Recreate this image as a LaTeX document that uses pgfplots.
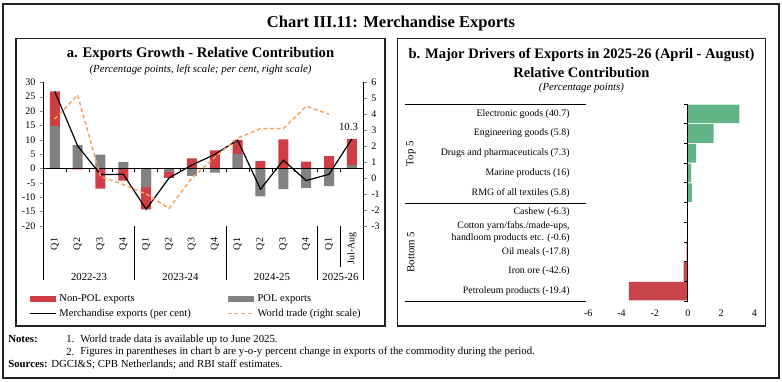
\documentclass[border=0pt]{standalone}
\usepackage{fontspec}
\setmainfont{Liberation Serif}
\usepackage{pgfplots}
\pgfplotsset{compat=1.18}
\definecolor{nonpol}{HTML}{CF3D45}
\definecolor{pol}{HTML}{828282}
\definecolor{wtrade}{HTML}{F4A261}
\definecolor{posg}{HTML}{62B487}
\definecolor{negr}{HTML}{C8444A}
\definecolor{frame}{HTML}{222222}
\newcommand{\fs}{\fontsize{7.5}{9}\selectfont}
\newcommand{\fn}{\fontsize{8.1}{9.5}\selectfont}
\begin{document}
\begin{tikzpicture}
\useasboundingbox (0,0) rectangle (586.5pt,286.5pt);
\begin{scope}[x=0.75pt,y=-0.75pt,shift={(0,286.5pt)}]
 \draw[line width=1pt, frame] (3,4) rectangle (779,378);
 \draw[line width=0.8pt, frame] (16,38.3) rectangle (385,326);
 \draw[line width=0.8pt, frame] (397.3,38.3) rectangle (765.7,326);
 \node[font=\fontsize{12.4}{14}\selectfont\bfseries] at (391,24) {Chart III.11: Merchandise Exports};
 \node[font=\fontsize{11}{13}\selectfont\bfseries] at (200.5,54) {a. Exports Growth - Relative Contribution};
 \node[font=\fn\itshape] at (200.5,70) {(Percentage points, left scale; per cent, right scale)};
 \node[font=\fontsize{10.9}{13}\selectfont\bfseries] at (581.5,55) {b. Major Drivers of Exports in 2025-26 (April - August)};
 \node[font=\fontsize{10.9}{13}\selectfont\bfseries] at (581.5,73) {Relative Contribution};
 \node[font=\fn\itshape] at (581.5,87.5) {(Percentage points)};
 \draw[line width=0.7pt] (405,104) -- (586,104);
 \draw[line width=0.7pt] (405,203.3) -- (586,203.3);
 \draw[line width=0.7pt] (405,301) -- (586,301);
 \node[rotate=90,font=\fn] at (411,153.7) {Top 5};
 \node[rotate=90,font=\fn] at (411,252) {Bottom 5};
 \node[anchor=west,font=\fn\bfseries,inner sep=0pt] at (8,339.5) {Notes:};
 \node[anchor=west,font=\fn,inner sep=0pt] at (66,339.5) {1.};
 \node[anchor=west,font=\fn,inner sep=0pt] at (80,339.5) {World trade data is available up to June 2025.};
 \node[anchor=west,font=\fn,inner sep=0pt] at (66,352) {2.};
 \node[anchor=west,font=\fn,inner sep=0pt] at (80,352) {Figures in parentheses in chart b are y-o-y percent change in exports of the commodity during the period.};
 \node[anchor=west,font=\fn,inner sep=0pt] at (8,364.5) {\textbf{Sources:} DGCI\&S; CPB Netherlands; and RBI staff estimates.};
\end{scope}

% Panel a, left scale
\begin{axis}[
  at={(32.5pt,117pt)}, anchor=south west,
  scale only axis, width=240pt, height=107.8pt,
  xmin=-0.5, xmax=13.5, ymin=-20, ymax=30,
  axis y line*=left, axis x line=none,
  ytick={-20,-15,...,30},
  tick align=outside, major tick length=2.5pt,
  ticklabel style={font=\fs},
  y axis line style={line width=0.7pt},
  /pgf/number format/assume math mode=true,
  clip=false,
  legend columns=2,
  legend cell align=left,
  legend style={at={(axis description cs:-0.05,-0.445)}, anchor=north west, draw=none, fill=none,
    font=\fontsize{7.9}{9}\selectfont, inner sep=1pt, row sep=0.3pt,
    /tikz/every even column/.append style={column sep=25pt}},
]
\addplot[ybar, bar width=7.5pt, bar shift=0pt, fill=nonpol, draw=none,
  legend image code/.code={\fill[nonpol] (0pt,-2.3pt) rectangle (20pt,2.3pt);}]
  coordinates {(0,26.8) (1,-0.3) (2,-7.0) (3,-4.2) (4,-14.2) (5,-3.3) (6,3.5) (7,6.3) (8,9.9) (9,2.6) (10,10.1) (11,2.4) (12,4.3) (13,10.3)};
\addlegendentry{Non-POL exports}
\addplot[ybar, bar width=7.5pt, bar shift=0pt, fill=pol, draw=none,
  legend image code/.code={\fill[pol] (0pt,-2.3pt) rectangle (20pt,2.3pt);}]
  coordinates {(0,14.8) (1,8.1) (2,4.8) (3,2.2) (4,-6.6) (5,-1.2) (6,-2.6) (7,-1.4) (8,5.0) (9,-9.7) (10,-7.2) (11,-6.7) (12,-6.1) (13,1.2)};
\addlegendentry{POL exports}
\addplot[black, line width=0.9pt, mark=none,
  legend image code/.code={\draw[black, line width=0.9pt] (0pt,0pt) -- (20pt,0pt);}]
  coordinates {(0,26.8) (1,7.9) (2,-2.1) (3,-2.0) (4,-14.2) (5,-3.3) (6,1.2) (7,4.9) (8,9.9) (9,-7.2) (10,2.9) (11,-4.2) (12,-2.0) (13,10.3)};
\addlegendentry{Merchandise exports (per cent)}
\addlegendimage{legend image code/.code={\draw[wtrade, line width=1.1pt, dash pattern=on 3pt off 2pt] (0pt,0pt) -- (20pt,0pt);}}
\addlegendentry{World trade (right scale)}
\node[font=\fn, anchor=south] at (axis cs:12.85,11.6) {10.3};
% zero line and ticks
\draw[line width=0.7pt] (axis cs:-0.5,0) -- (axis cs:13.5,0);
\pgfplotsinvokeforeach{0.5,1.5,2.5,3.5,4.5,5.5,6.5,7.5,8.5,9.5,10.5,11.5,12.5}{\draw[line width=0.5pt] (axis cs:#1,0) -- ++(0pt,-2.3pt);}
% category separators
\pgfplotsinvokeforeach{-0.5,3.5,7.5,11.5,13.5}{\draw[line width=0.7pt] (axis cs:#1,-20) -- (axis cs:#1,-38.9);}
\draw[line width=0.7pt] (axis cs:12.5,-20) -- (axis cs:12.5,-34.3);
% category labels
\pgfplotsinvokeforeach{0,4,8,12}{\node[rotate=90,font=\fs] at (axis cs:#1,-26.3) {Q1};}
\pgfplotsinvokeforeach{1,5,9}{\node[rotate=90,font=\fs] at (axis cs:#1,-26.3) {Q2};}
\pgfplotsinvokeforeach{2,6,10}{\node[rotate=90,font=\fs] at (axis cs:#1,-26.3) {Q3};}
\pgfplotsinvokeforeach{3,7,11}{\node[rotate=90,font=\fs] at (axis cs:#1,-26.3) {Q4};}
\node[rotate=90,font=\fs] at (axis cs:13,-27.8) {Jul-Aug};
\node[font=\fn] at (axis cs:1.5,-37.6) {2022-23};
\node[font=\fn] at (axis cs:5.5,-37.6) {2023-24};
\node[font=\fn] at (axis cs:9.5,-37.6) {2024-25};
\node[font=\fn] at (axis cs:12.5,-37.6) {2025-26};
\end{axis}

% Panel a, right scale
\begin{axis}[
  at={(32.5pt,117pt)}, anchor=south west,
  scale only axis, width=240pt, height=107.8pt,
  xmin=-0.5, xmax=13.5, ymin=-3, ymax=6,
  axis y line*=right, axis x line=none,
  ytick={-3,-2,...,6},
  tick align=outside, major tick length=2.5pt,
  ticklabel style={font=\fs},
  /pgf/number format/assume math mode=true,
  y axis line style={line width=0.7pt},
]
\addplot[wtrade, line width=1.1pt, dash pattern=on 3pt off 2pt, mark=none]
  coordinates {(0,3.7) (1,5.2) (2,0.1) (3,-0.4) (4,-1.0) (5,-1.9) (6,0.0) (7,1.3) (8,2.5) (9,3.1) (10,3.1) (11,4.5) (12,4.0)};
\end{axis}

% Panel b
\begin{axis}[
  at={(441.2pt,60.75pt)}, anchor=south west,
  scale only axis, width=124.5pt, height=147.75pt,
  xmin=-6, xmax=4, ymin=-0.5, ymax=9.5, y dir=reverse,
  axis x line*=bottom, axis y line*=left,
  axis line style={draw=none},
  xtick={-6,-4,...,4}, ytick={0,...,9},
  major tick length=0pt,
  ticklabel style={font=\fs},
  xticklabel style={yshift=-3pt},
  yticklabel style={align=right, xshift=-10.5pt, font=\fontsize{7.4}{8.6}\selectfont},
  yticklabels={Electronic goods (40.7), Engineering goods (5.8), Drugs and pharmaceuticals (7.3), Marine products (16), RMG of all textiles (5.8), Cashew (-6.3), {Cotton yarn/fabs./made-ups,\\handloom products etc. (-0.6)}, Oil meals (-17.8), Iron ore (-42.6), Petroleum products (-19.4)},
  /pgf/number format/assume math mode=true,
  clip=false,
]
\addplot[xbar, bar width=14pt, bar shift=0pt, fill=posg, draw=none]
  coordinates {(3.1,0) (1.55,1) (0.5,2) (0.2,3) (0.24,4)};
\addplot[xbar, bar width=14pt, bar shift=0pt, fill=negr, draw=none]
  coordinates {(-0.05,5) (-0.05,6) (-0.07,7) (-0.26,8) (-3.55,9)};
\draw[line width=0.7pt] (axis cs:0,-0.5) -- (axis cs:0,9.5);
\pgfplotsinvokeforeach{-0.5,0.5,1.5,2.5,3.5,4.5,5.5,6.5,7.5,8.5,9.5}{\draw[line width=0.5pt] (axis cs:0,#1) -- ++(-3pt,0pt);}
\end{axis}
\end{tikzpicture}
\end{document}
